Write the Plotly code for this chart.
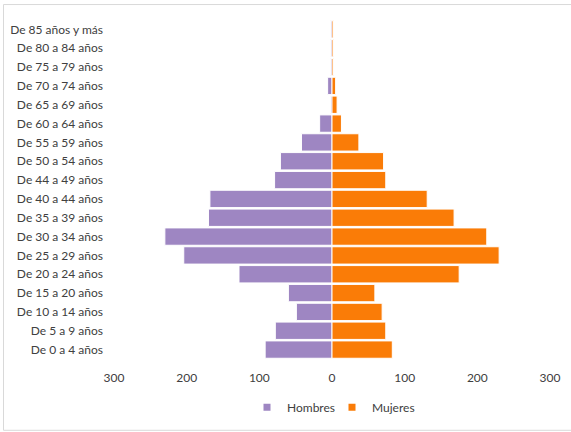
import plotly.graph_objects as go

categorias = ["De 0 a 4 años", "De 5 a 9 años", "De 10 a 14 años", "De 15 a 20 años",
              "De 20 a 24 años", "De 25 a 29 años", "De 30 a 34 años", "De 35 a 39 años",
              "De 40 a 44 años", "De 44 a 49 años", "De 50 a 54 años", "De 55 a 59 años",
              "De 60 a 64 años", "De 65 a 69 años", "De 70 a 74 años", "De 75 a 79 años",
              "De 80 a 84 años", "De 85 años y más"]
hombres = [92, 78, 49, 60, 128, 204, 230, 170, 168, 79, 71, 42, 17, 2, 6, 2, 2, 2]
mujeres = [83, 74, 69, 59, 175, 230, 213, 168, 131, 74, 71, 37, 13, 7, 5, 2, 2, 2]
tick_vals = [-300, -200, -100, 0, 100, 200, 300]
tick_text = ["300", "200", "100", "0", "100", "200", "300"]
series = ["Hombres", "Mujeres"]

morado = "#9E86C2"
naranja = "#FA7C07"

fig = go.Figure()
fig.add_trace(go.Bar(y=categorias, x=[-v for v in hombres], orientation="h", name=series[0],
                     showlegend=False, legendgroup="h",
                     marker=dict(color=morado, line=dict(color="white", width=1))))
fig.add_trace(go.Bar(y=categorias, x=mujeres, orientation="h", name=series[1],
                     showlegend=False, legendgroup="m",
                     marker=dict(color=naranja, line=dict(color="white", width=1))))
# legend entries with small square symbols (Excel style)
for nm, col, grp in [(series[0], morado, "h"), (series[1], naranja, "m")]:
    fig.add_trace(go.Scatter(x=[None], y=[None], mode="markers", name=nm, legendgroup=grp,
                             marker=dict(symbol="square", size=7, color=col)))

pl, pr, pt, pb = 114, 550, 19.5, 359.5
W, H = 571, 432
pw, ph = pr - pl, pb - pt

def px(x):
    return (x - pl) / pw

def py(y):
    return (pb - y) / ph

fig.add_shape(type="rect", xref="paper", yref="paper",
              x0=px(3.5), x1=px(575), y0=py(431), y1=py(4),
              line=dict(color="#D9D9D9", width=1), fillcolor="rgba(0,0,0,0)")

fig.update_layout(
    width=W, height=H,
    margin=dict(l=pl, r=W - pr, t=pt, b=H - pb, autoexpand=False),
    barmode="relative", bargap=0.08,
    plot_bgcolor="white", paper_bgcolor="white",
    font=dict(family="Lato", size=12, color="#404040"),
    showlegend=True,
    legend=dict(orientation="h", x=px(332), y=py(408), xanchor="center", yanchor="middle",
                font=dict(size=12, color="#404040"), itemwidth=30, tracegroupgap=0,
                entrywidth=40),
    xaxis=dict(range=[-300, 300], tickvals=tick_vals, ticktext=tick_text, showgrid=False,
               zeroline=False, showline=False, ticks="", ticklabelstandoff=10),
    yaxis=dict(showgrid=False, zeroline=False, showline=False, ticks="", ticklabelstandoff=10),
)

fig.write_html("out.html", config={"displayModeBar": False})

with open("out.html", encoding="utf-8") as f:
    html = f.read()
html = html.replace("<head>", "<head><style>html,body{margin:0;padding:0;overflow:hidden;}</style>", 1)
with open("out.html", "w", encoding="utf-8") as f:
    f.write(html)
